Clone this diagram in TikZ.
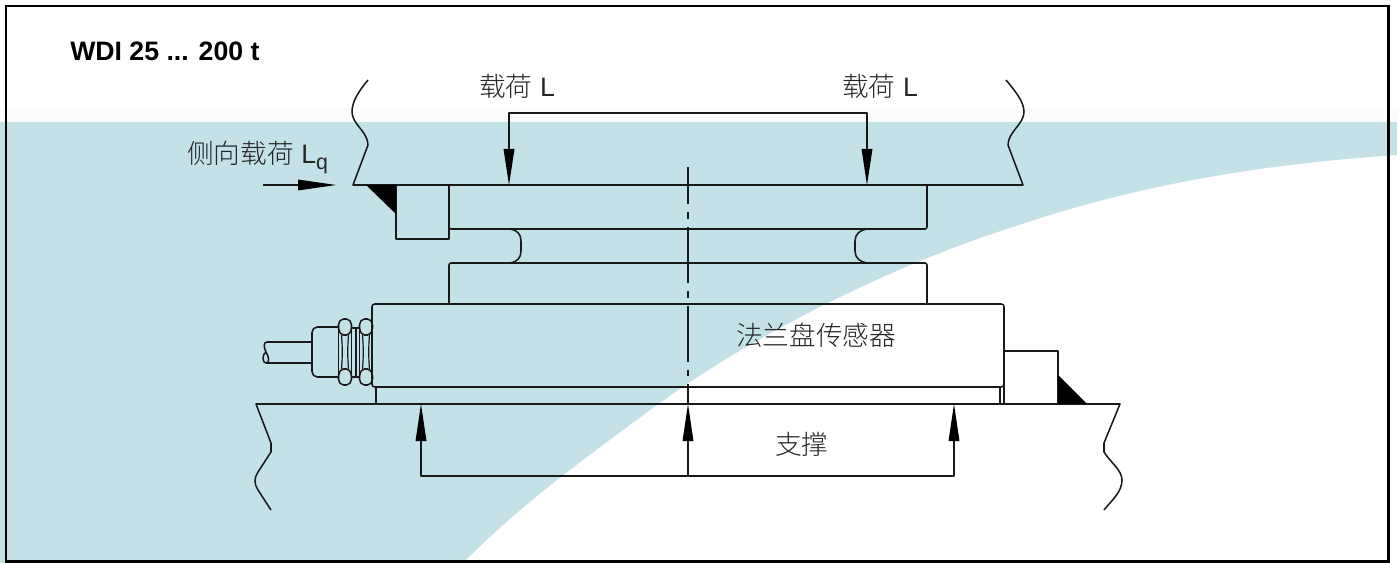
\documentclass[tikz,border=0pt]{standalone}
\usepackage{fontspec}
\setmainfont{Liberation Sans}
\newfontfamily\cjk{Noto Sans CJK SC Light}
\tikzset{
  x=0.75pt,y=-0.75pt,
  ink/.style={draw=black!90,line width=1.15pt,line join=round},
  thin ink/.style={draw=black!90,line width=0.9pt,line join=round},
  head/.style={fill=black,draw=none},
  lab/.style={inner sep=0pt,text=black!85,font=\fontsize{20}{22}\selectfont},
  nutlobe/.style={ink,rounded corners=1.5pt},
}
\definecolor{teal}{RGB}{195,225,231}
\definecolor{fade}{RGB}{250,252,253}
\begin{document}
\begin{tikzpicture}
\useasboundingbox (0,0) rectangle (1397,563);
% background
\fill[white] (0,0) rectangle (1397,563);
\fill[fade] (0,108) rectangle (1397,122);
\fill[teal] (0,122) -- (1397,122) -- (1397,155)
  .. controls (1250,165) and (1130,187) .. (1010,228)
  .. controls (900,263) and (760,330) .. (657,405)
  .. controls (585,458) and (520,505) .. (463,563)
  -- (0,563) -- cycle;
% frame
\draw[black,line width=2.2pt] (6,6) rectangle (1388.5,561.5);
% upper beam
\draw[ink] (368,80) .. controls (358,92) and (352,102) .. (352,112)
  .. controls (352,124) and (368,132) .. (368,145) -- (353,185) -- (1023,185)
  -- (1008,145) .. controls (1008,132) and (1024,124) .. (1024,112)
  .. controls (1024,102) and (1016,92) .. (1006,80);
% lower beam
\draw[ink] (271,510) -- (258,490) .. controls (254,484) and (254,478) .. (258,472)
  -- (271,452) -- (271,443) -- (256,404) -- (1120,404) -- (1104,443) -- (1104,452)
  .. controls (1110,462) and (1122,470) .. (1122,480)
  .. controls (1122,492) and (1112,500) .. (1104,510);
% upper plate and neck
\draw[ink,rounded corners=1.5pt] (449,185) -- (449,229) -- (927,229) -- (927,185);
\draw[ink] (510,229) .. controls (517,230) and (521,234) .. (521,241)
  -- (521,251) .. controls (521,258) and (517,262) .. (510,263);
\draw[ink] (867,229) .. controls (860,230) and (855,234) .. (855,241)
  -- (855,251) .. controls (855,258) and (860,262) .. (867,263);
\draw[ink,rounded corners=1.5pt] (449,304) -- (449,263) -- (927,263) -- (927,304);
% left stop
\draw[ink] (396,185) rectangle (449,239);
\fill[black] (366,185) -- (396,185) -- (396,214) -- cycle;
% main body
\draw[ink,rounded corners=2pt] (372,304) rectangle (1004,387);
\draw[ink] (376,387) -- (376,404);
\draw[thin ink] (1000,387) -- (1000,404);
% right stop
\draw[ink] (1004,351) -- (1058,351) -- (1058,404);
\draw[ink] (1004,351) -- (1004,404);
\fill[black] (1058,375) -- (1058,404) -- (1087,404) -- cycle;
% cable gland
\draw[ink] (312,342) -- (267,342) .. controls (263,342) and (264,348) .. (266,352)
  .. controls (269,357) and (270,363) .. (266,363) .. controls (262,363) and (262,354) .. (266,352)
  (266,363) -- (312,363);
\draw[ink,rounded corners=4pt] (339,327) -- (312,327) -- (312,377) -- (339,377);
% first nut
\draw[nutlobe] (341.5,335) -- (338.5,330) -- (338.5,323) -- (341.5,319) -- (348.5,319) -- (351.5,323) -- (351.5,330) -- (348.5,335) -- cycle;
\draw[nutlobe] (341.5,369) -- (338.5,374) -- (338.5,381) -- (341.5,385) -- (348.5,385) -- (351.5,381) -- (351.5,374) -- (348.5,369) -- cycle;
\draw[ink] (338.5,330) -- (338.5,374) (351.5,330) -- (351.5,374);
\draw[thin ink] (341.5,335) .. controls (342.5,346) and (342.5,358) .. (341.5,369)
  (348.5,335) .. controls (347.5,346) and (347.5,358) .. (348.5,369);
% washer
\draw[ink] (351,328) -- (360,328) (351,377) -- (360,377) (356,328) -- (356,377);
% second nut
\draw[nutlobe] (362.5,335) -- (359.5,330) -- (359.5,323) -- (362.5,319) -- (369.5,319) -- (372.5,323) -- (372.5,330) -- (369.5,335) -- cycle;
\draw[nutlobe] (362.5,369) -- (359.5,374) -- (359.5,381) -- (362.5,385) -- (369.5,385) -- (372.5,381) -- (372.5,374) -- (369.5,369) -- cycle;
\draw[ink] (359.5,330) -- (359.5,374);
\draw[thin ink] (362.5,335) .. controls (363.5,346) and (363.5,358) .. (362.5,369)
  (369.5,335) .. controls (368.5,346) and (368.5,358) .. (369.5,369);
% centre line
\draw[thin ink,dash pattern=on 42pt off 6pt on 5pt off 6pt,dash phase=14pt] (688,167) -- (688,404);
% load arrows
\draw[thin ink] (509,150) -- (509,113) -- (867,113) -- (867,150);
\fill[head] (509,185) -- (503.5,149) -- (514.5,149) -- cycle;
\fill[head] (867,185) -- (861.5,149) -- (872.5,149) -- cycle;
\draw[thin ink] (263,185) -- (300,185);
\fill[head] (336,185) -- (298,179.5) -- (298,190.5) -- cycle;
% support arrows
\draw[thin ink] (421,441) -- (421,476) -- (954,476) -- (954,441);
\draw[thin ink] (688,441) -- (688,476);
\fill[head] (421,404) -- (415.5,441) -- (426.5,441) -- cycle;
\fill[head] (688,404) -- (682.5,441) -- (693.5,441) -- cycle;
\fill[head] (954,404) -- (948.5,441) -- (959.5,441) -- cycle;
% labels
\node[inner sep=0pt,anchor=base west,font=\bfseries\fontsize{20}{22}\selectfont] (title) at (70,60.5) {WDI 25 ... 200 t};
\node[lab,anchor=base west] (load1) at (479,97) {{\cjk 载荷} L};
\node[lab,anchor=base west] (load2) at (842,97) {{\cjk 载荷} L};
\node[lab,anchor=base west] (side) at (187,164) {{\cjk 侧向载荷} L\raisebox{-4pt}{\fontsize{16}{20}\selectfont q}};
\node[lab,anchor=base west] (flange) at (736,345) {\cjk 法兰盘传感器};
\node[lab,anchor=base west] (sup) at (775,454) {\cjk 支撑};
\end{tikzpicture}
\end{document}
